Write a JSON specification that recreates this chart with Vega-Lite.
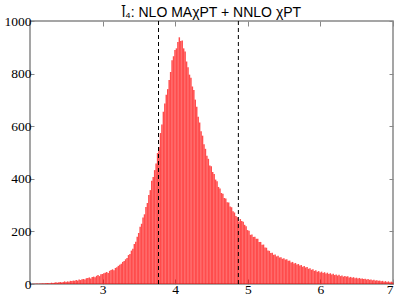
{
  "$schema": "https://vega.github.io/schema/vega-lite/v6.json",
  "width": 363,
  "height": 263,
  "autosize": {"type": "none"},
  "padding": {"left": 30, "top": 21, "right": 6, "bottom": 15},
  "background": "white",
  "title": {"text": "l̄₄: NLO MAχPT + NNLO χPT", "font": "Liberation Sans", "fontSize": 14, "fontWeight": "normal", "color": "black", "anchor": "middle", "baseline": "bottom", "offset": -20, "frame": "group"},
  "config": {
    "view": {"stroke": "#888888", "strokeWidth": 1.5},
    "axis": {"domain": false, "grid": false, "labelFont": "Liberation Serif", "labelFontSize": 13.5, "labelColor": "black", "tickColor": "#888888", "tickWidth": 1, "title": null}
  },
  "data": {"values": [
{"x":2.00,"n":0},{"x":2.02,"n":1},{"x":2.04,"n":1},{"x":2.06,"n":1},{"x":2.08,"n":2},{"x":2.10,"n":1},{"x":2.12,"n":2},{"x":2.14,"n":2},{"x":2.16,"n":3},{"x":2.18,"n":2},
{"x":2.20,"n":3},{"x":2.22,"n":4},{"x":2.24,"n":3},{"x":2.26,"n":3},{"x":2.28,"n":5},{"x":2.30,"n":4},{"x":2.32,"n":5},{"x":2.34,"n":7},{"x":2.36,"n":5},{"x":2.38,"n":7},
{"x":2.40,"n":8},{"x":2.42,"n":6},{"x":2.44,"n":8},{"x":2.46,"n":10},{"x":2.48,"n":8},{"x":2.50,"n":10},{"x":2.52,"n":9},{"x":2.54,"n":12},{"x":2.56,"n":11},{"x":2.58,"n":13},
{"x":2.60,"n":12},{"x":2.62,"n":15},{"x":2.64,"n":13},{"x":2.66,"n":17},{"x":2.68,"n":15},{"x":2.70,"n":18},{"x":2.72,"n":19},{"x":2.74,"n":17},{"x":2.76,"n":22},{"x":2.78,"n":23},
{"x":2.80,"n":25},{"x":2.82,"n":21},{"x":2.84,"n":27},{"x":2.86,"n":28},{"x":2.88,"n":26},{"x":2.90,"n":31},{"x":2.92,"n":34},{"x":2.94,"n":30},{"x":2.96,"n":37},{"x":2.98,"n":38},
{"x":3.00,"n":41},{"x":3.02,"n":43},{"x":3.04,"n":46},{"x":3.06,"n":42},{"x":3.08,"n":50},{"x":3.10,"n":53},{"x":3.12,"n":56},{"x":3.14,"n":52},{"x":3.16,"n":61},{"x":3.18,"n":64},
{"x":3.20,"n":69},{"x":3.22,"n":73},{"x":3.24,"n":77},{"x":3.26,"n":84},{"x":3.28,"n":87},{"x":3.30,"n":94},{"x":3.32,"n":99},{"x":3.34,"n":110},{"x":3.36,"n":114},{"x":3.38,"n":127},
{"x":3.40,"n":134},{"x":3.42,"n":152},{"x":3.44,"n":161},{"x":3.46,"n":180},{"x":3.48,"n":194},{"x":3.50,"n":218},{"x":3.52,"n":229},{"x":3.54,"n":253},{"x":3.56,"n":265},{"x":3.58,"n":293},
{"x":3.60,"n":308},{"x":3.62,"n":338},{"x":3.64,"n":357},{"x":3.66,"n":393},{"x":3.68,"n":407},{"x":3.70,"n":433},{"x":3.72,"n":458},{"x":3.74,"n":498},{"x":3.76,"n":521},{"x":3.78,"n":574},
{"x":3.80,"n":606},{"x":3.82,"n":655},{"x":3.84,"n":686},{"x":3.86,"n":720},{"x":3.88,"n":741},{"x":3.90,"n":776},{"x":3.92,"n":806},{"x":3.94,"n":851},{"x":3.96,"n":866},{"x":3.98,"n":890},
{"x":4.00,"n":896},{"x":4.02,"n":920},{"x":4.04,"n":938},{"x":4.06,"n":924},{"x":4.08,"n":926},{"x":4.10,"n":896},{"x":4.12,"n":884},{"x":4.14,"n":846},{"x":4.16,"n":824},{"x":4.18,"n":796},
{"x":4.20,"n":784},{"x":4.22,"n":751},{"x":4.24,"n":738},{"x":4.26,"n":701},{"x":4.28,"n":674},{"x":4.30,"n":636},{"x":4.32,"n":614},{"x":4.34,"n":581},{"x":4.36,"n":564},{"x":4.38,"n":531},
{"x":4.40,"n":514},{"x":4.42,"n":488},{"x":4.44,"n":476},{"x":4.46,"n":451},{"x":4.48,"n":448},{"x":4.50,"n":426},{"x":4.52,"n":418},{"x":4.54,"n":397},{"x":4.56,"n":391},{"x":4.58,"n":369},
{"x":4.60,"n":363},{"x":4.62,"n":346},{"x":4.64,"n":343},{"x":4.66,"n":327},{"x":4.68,"n":325},{"x":4.70,"n":311},{"x":4.72,"n":310},{"x":4.74,"n":295},{"x":4.76,"n":292},{"x":4.78,"n":277},
{"x":4.80,"n":272},{"x":4.82,"n":259},{"x":4.84,"n":254},{"x":4.86,"n":238},{"x":4.88,"n":247},{"x":4.90,"n":240},{"x":4.92,"n":237},{"x":4.94,"n":225},{"x":4.96,"n":220},{"x":4.98,"n":205},
{"x":5.00,"n":202},{"x":5.02,"n":187},{"x":5.04,"n":188},{"x":5.06,"n":179},{"x":5.08,"n":180},{"x":5.10,"n":172},{"x":5.12,"n":172},{"x":5.14,"n":160},{"x":5.16,"n":160},{"x":5.18,"n":149},
{"x":5.20,"n":150},{"x":5.22,"n":139},{"x":5.24,"n":138},{"x":5.26,"n":127},{"x":5.28,"n":126},{"x":5.30,"n":118},{"x":5.32,"n":119},{"x":5.34,"n":111},{"x":5.36,"n":112},{"x":5.38,"n":105},
{"x":5.40,"n":107},{"x":5.42,"n":101},{"x":5.44,"n":102},{"x":5.46,"n":96},{"x":5.48,"n":98},{"x":5.50,"n":93},{"x":5.52,"n":94},{"x":5.54,"n":88},{"x":5.56,"n":89},{"x":5.58,"n":82},
{"x":5.60,"n":84},{"x":5.62,"n":78},{"x":5.64,"n":80},{"x":5.66,"n":74},{"x":5.68,"n":76},{"x":5.70,"n":70},{"x":5.72,"n":72},{"x":5.74,"n":66},{"x":5.76,"n":68},{"x":5.78,"n":63},
{"x":5.80,"n":65},{"x":5.82,"n":58},{"x":5.84,"n":60},{"x":5.86,"n":54},{"x":5.88,"n":56},{"x":5.90,"n":50},{"x":5.92,"n":52},{"x":5.94,"n":47},{"x":5.96,"n":49},{"x":5.98,"n":44},
{"x":6.00,"n":47},{"x":6.02,"n":42},{"x":6.04,"n":45},{"x":6.06,"n":40},{"x":6.08,"n":43},{"x":6.10,"n":38},{"x":6.12,"n":41},{"x":6.14,"n":36},{"x":6.16,"n":39},{"x":6.18,"n":34},
{"x":6.20,"n":36},{"x":6.22,"n":32},{"x":6.24,"n":35},{"x":6.26,"n":30},{"x":6.28,"n":32},{"x":6.30,"n":28},{"x":6.32,"n":30},{"x":6.34,"n":28},{"x":6.36,"n":29},{"x":6.38,"n":25},
{"x":6.40,"n":27},{"x":6.42,"n":24},{"x":6.44,"n":26},{"x":6.46,"n":22},{"x":6.48,"n":24},{"x":6.50,"n":21},{"x":6.52,"n":23},{"x":6.54,"n":20},{"x":6.56,"n":21},{"x":6.58,"n":19},
{"x":6.60,"n":20},{"x":6.62,"n":17},{"x":6.64,"n":19},{"x":6.66,"n":16},{"x":6.68,"n":17},{"x":6.70,"n":14},{"x":6.72,"n":16},{"x":6.74,"n":13},{"x":6.76,"n":14},{"x":6.78,"n":12},
{"x":6.80,"n":13},{"x":6.82,"n":10},{"x":6.84,"n":12},{"x":6.86,"n":9},{"x":6.88,"n":11},{"x":6.90,"n":8},{"x":6.92,"n":10},{"x":6.94,"n":7},{"x":6.96,"n":9},{"x":6.98,"n":6}
  ]},
  "layer": [
    {
      "mark": {"type": "bar", "color": "#ff0000", "opacity": 0.7, "binSpacing": 0},
      "encoding": {
        "x": {"field": "x", "type": "quantitative", "bin": {"binned": true, "step": 0.02},
              "scale": {"domain": [2, 7], "nice": false},
              "axis": {"orient": "bottom", "values": [3, 4, 5, 6, 7], "tickSize": -5, "labelPadding": 3, "format": "d"}},
        "y": {"field": "n", "type": "quantitative",
              "scale": {"domain": [0, 1000], "nice": false},
              "axis": {"orient": "left", "values": [0, 200, 400, 600, 800, 1000], "tickSize": -4, "labelPadding": 3, "format": "d"}}
      }
    },
    {
      "data": {"values": [{"v": 3.77}, {"v": 4.87}]},
      "mark": {"type": "rule", "color": "black", "strokeDash": [4, 3], "strokeWidth": 1},
      "encoding": {
        "x": {"field": "v", "type": "quantitative",
              "axis": {"orient": "top", "values": [3, 4, 5, 6, 7], "tickSize": -5, "labels": false}}
      }
    },
    {
      "data": {"values": [{"w": 0}]},
      "mark": {"type": "point", "opacity": 0},
      "encoding": {
        "y": {"field": "w", "type": "quantitative",
              "axis": {"orient": "right", "values": [0, 200, 400, 600, 800, 1000], "tickSize": -4, "labels": false}}
      }
    }
  ]
}
